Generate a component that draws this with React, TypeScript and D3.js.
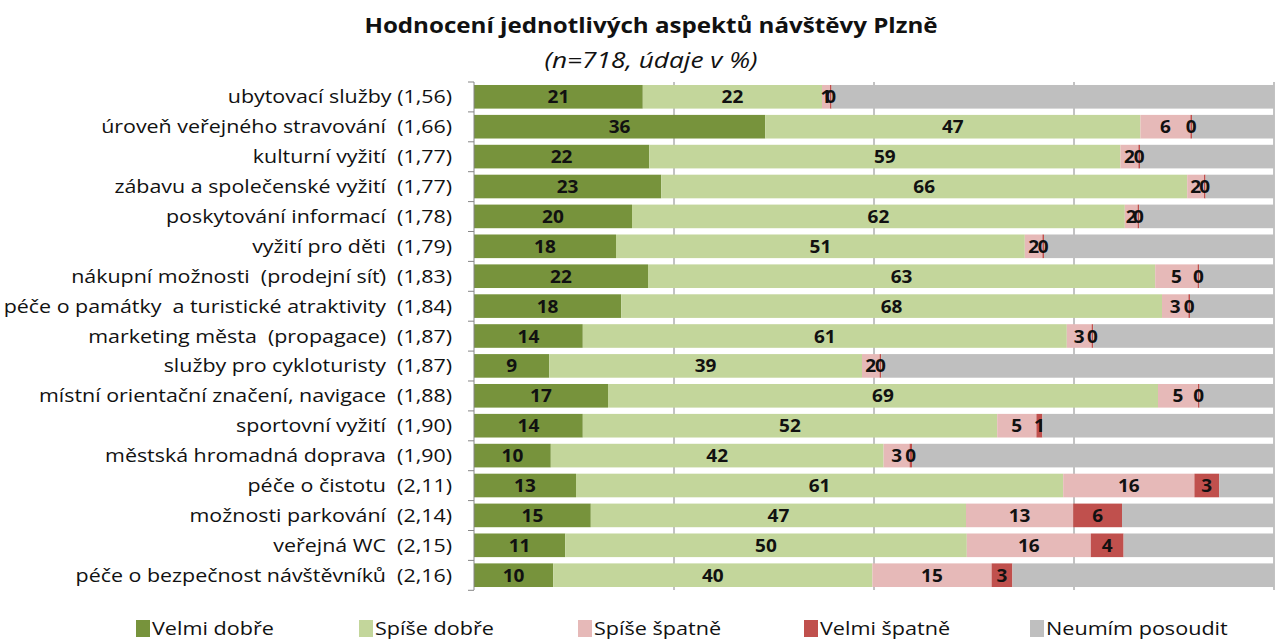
import React from "react";
import * as d3 from "d3";

const categories = [
  "ubytovací služby (1,56)",
  "úroveň veřejného stravování  (1,66)",
  "kulturní vyžití  (1,77)",
  "zábavu a společenské vyžití  (1,77)",
  "poskytování informací  (1,78)",
  "vyžití pro děti  (1,79)",
  "nákupní možnosti  (prodejní síť)  (1,83)",
  "péče o památky  a turistické atraktivity  (1,84)",
  "marketing města  (propagace)  (1,87)",
  "služby pro cykloturisty  (1,87)",
  "místní orientační značení, navigace  (1,88)",
  "sportovní vyžití  (1,90)",
  "městská hromadná doprava  (1,90)",
  "péče o čistotu  (2,11)",
  "možnosti parkování  (2,14)",
  "veřejná WC  (2,15)",
  "péče o bezpečnost návštěvníků  (2,16)",
];

const seriesNames = ["Velmi dobře", "Spíše dobře", "Spíše špatně", "Velmi špatně", "Neumím posoudit"];

const velmiDobre = [21.1, 36.4, 21.9, 23.4, 19.75, 17.75, 21.75, 18.4, 13.6, 9.4, 16.75, 13.6, 9.6, 12.75, 14.6, 11.4, 9.9];
const spiseDobre = [22.4, 46.9, 58.9, 65.75, 61.6, 51.1, 63.4, 67.6, 60.5, 39.1, 68.75, 51.8, 41.6, 60.9, 46.9, 50.2, 39.9];
const spiseSpatne = [1.0, 6.25, 2.25, 2.1, 1.6, 2.2, 5.3, 3.3, 3.1, 2.2, 5.0, 4.9, 3.25, 16.4, 13.4, 15.5, 14.9];
const velmiSpatne = [0.2, 0.2, 0.2, 0.2, 0.2, 0.2, 0.2, 0.2, 0.2, 0.2, 0.2, 0.75, 0.3, 3.1, 6.1, 4.1, 2.6];

const colors = ["#77933C", "#C3D69B", "#E6B9B8", "#C0504D", "#BFBFBF"];

const W = 1275;
const H = 641;
const x0 = 474;
const x1 = 1274;
const top = 82;
const bottom = 590;
const FONT = "'Open Sans', sans-serif";

// stretched text: the reference's text is wider than our font
const ST = ({ x, y, sx, anchor = "start", size, weight = "normal", italic = false, children }: any) => (
  <text
    transform={`translate(${x},${y}) scale(${sx},1)`}
    textAnchor={anchor}
    fontFamily={FONT}
    fontSize={size}
    fontWeight={weight}
    fontStyle={italic ? "italic" : "normal"}
    fill="#111"
    style={{ whiteSpace: "pre" }}
  >
    {children}
  </text>
);

export default function App() {
  const rows = categories.map((c, i) => {
    const vals = [velmiDobre[i], spiseDobre[i], spiseSpatne[i], velmiSpatne[i]];
    const rest = 100 - vals.reduce((a, b) => a + b, 0);
    return { cat: c, vals: [...vals, rest] };
  });

  const x = d3.scaleLinear().domain([0, 100]).range([x0, x1]);
  const y = d3.scaleBand<string>().domain(categories).range([top, bottom]).paddingInner(0.21).paddingOuter(0.1);
  const step = y.step();
  const boundaries = d3.range(categories.length + 1).map((i) => top + i * step);
  const fmt = d3.format(".0f");

  const legendX = [136, 359, 578, 804, 1030];

  return (
    <svg width={W} height={H} style={{ position: "absolute", left: 0, top: 0, background: "#fff" }}>
      <ST x={651} y={33} sx={1.15} anchor="middle" size={21} weight="bold">
        Hodnocení jednotlivých aspektů návštěvy Plzně
      </ST>
      <ST x={651} y={68} sx={1.25} anchor="middle" size={21} italic>
        (n=718, údaje v %)
      </ST>

      {/* gridlines */}
      {[25, 50, 75, 100].map((t) => (
        <line key={t} x1={x(t)} x2={x(t)} y1={top} y2={bottom} stroke="#868686" strokeWidth={1} />
      ))}

      {rows.map((r) => {
        let acc = 0;
        const yy = y(r.cat) as number;
        return (
          <g key={r.cat}>
            {r.vals.map((v, k) => {
              const start = acc;
              acc += v;
              return (
                <rect key={k} x={x(start)} y={yy} width={x(start + v) - x(start)} height={y.bandwidth()} fill={colors[k]} />
              );
            })}
          </g>
        );
      })}

      {rows.map((r) => {
        let acc = 0;
        const yy = (y(r.cat) as number) + y.bandwidth() / 2;
        return (
          <g key={r.cat + "-l"}>
            {r.vals.slice(0, 4).map((v, k) => {
              const start = acc;
              acc += v;
              return (
                <ST key={k} x={x(start + v / 2)} y={yy + 6.5} sx={1.12} anchor="middle" size={17} weight="bold">
                  {fmt(v)}
                </ST>
              );
            })}
          </g>
        );
      })}

      {/* axis */}
      <line x1={x0} x2={x0} y1={top} y2={bottom} stroke="#868686" strokeWidth={1} />
      {boundaries.map((b, i) => (
        <line key={i} x1={x0 - 6} x2={x0} y1={b} y2={b} stroke="#868686" strokeWidth={1} />
      ))}
      {categories.map((c) => (
        <ST key={c} x={452} y={(y(c) as number) + y.bandwidth() / 2 + 6.5} sx={1.19} anchor="end" size={18}>
          {c}
        </ST>
      ))}

      {/* legend */}
      {seriesNames.map((s, i) => (
        <g key={s}>
          <rect x={legendX[i]} y={620} width={14} height={17} fill={colors[i]} />
          <ST x={legendX[i] + 16} y={635} sx={1.2} size={18}>
            {s}
          </ST>
        </g>
      ))}
    </svg>
  );
}
